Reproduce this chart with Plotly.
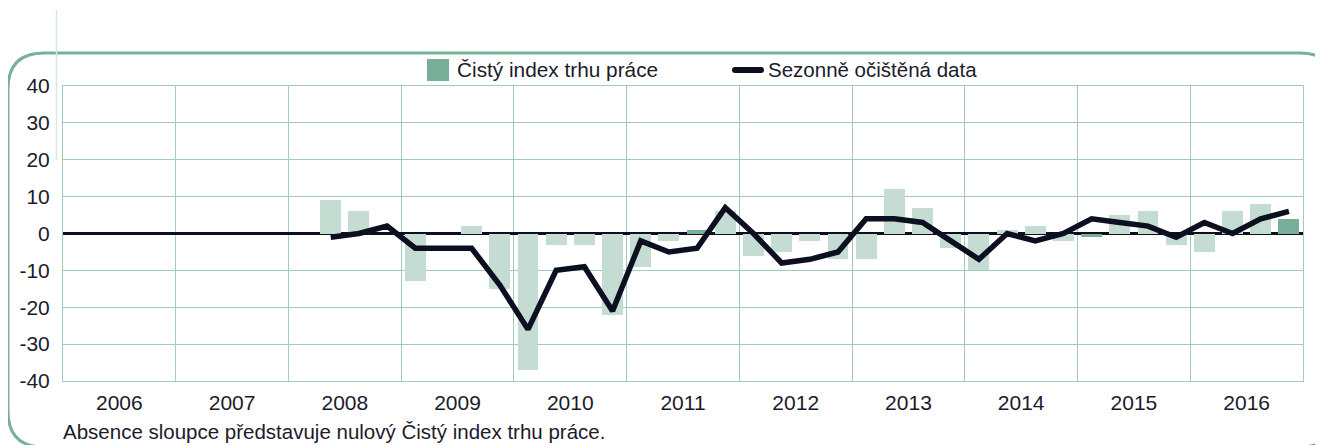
import plotly.graph_objects as go

# ---------------- data ----------------
year_labels = ["2006", "2007", "2008", "2009", "2010", "2011",
               "2012", "2013", "2014", "2015", "2016"]

y_ticks = [-40, -30, -20, -10, 0, 10, 20, 30, 40]
y_tick_labels = ["-40", "-30", "-20", "-10", "0", "10", "20", "30", "40"]

quarters = (["2008-Q2", "2008-Q3", "2008-Q4"] +
            [f"{y}-Q{q}" for y in range(2009, 2017) for q in range(1, 5)])

net_index = [9, 6, 0,
             -13, 0, 2, -15,
             -37, -3, -3, -22,
             -9, -2, 1, 6,
             -6, -5, -2, -7,
             -7, 12, 7, -4,
             -10, 1, 2, -2,
             -1, 5, 6, -3,
             -5, 6, 8, 4]

seasonal = [-1, 0, 2,
            -4, -4, -4, -14,
            -26, -10, -9, -21,
            -2, -5, -4, 7,
            0, -8, -7, -5,
            4, 4, 3, -2,
            -7, 0, -2, 0,
            4, 3, 2, -1,
            3, 0, 4, 6]

highlighted = ["2011-Q3", "2015-Q1", "2016-Q4"]
legend_names = ["Čistý index trhu práce", "Sezonně očištěná data"]
footnote = "Absence sloupce představuje nulový Čistý index trhu práce."

# ---------------- style ----------------
FONT = "Liberation Sans"
TXT = "#1b1b2b"
GRID = "#9fcbb8"
LIGHT = "#c4dcd2"
DARK = "#79af98"
LINE = "#0b0f1f"
FRAME = "#77b198"

OFF = 8                      # page body margin
W, H = 1323 - OFF, 445 - OFF
L, T = 63 - OFF, 86 - OFF
PR, PB = 1303 - OFF, 381 - OFF
R, B = W - PR, H - PB
PW, PH = PR - L, PB - T


def qx(label):
    y, q = label.split("-Q")
    return (int(y) - int(year_labels[0])) + (int(q) - 0.5) / 4


xs = [qx(q) for q in quarters]
bar_colors = [DARK if q in highlighted else LIGHT for q in quarters]
nyears = len(year_labels)


def px2x(sx):           # screen x -> paper
    return (sx - OFF - L) / PW


def px2y(sy):           # screen y -> paper
    return (PB - (sy - OFF)) / PH


fig = go.Figure()

fig.add_trace(go.Bar(
    x=xs, y=net_index, width=0.186, marker=dict(color=bar_colors, line=dict(width=0)),
    showlegend=False, name=legend_names[0], hoverinfo="skip"))

fig.add_trace(go.Scatter(
    x=xs, y=seasonal, mode="lines", name=legend_names[1], showlegend=False,
    line=dict(color=LINE, width=5.5)))

# helper axis carrying the year gridlines
fig.add_trace(go.Scatter(x=[None], y=[None], xaxis="x2", showlegend=False))

# rounded frame
fl, ft, fr, fb, rad = 8, 53, 1336, 447, 36
path = (f"M {px2x(fl)},{px2y(ft + rad)} "
        f"Q {px2x(fl)},{px2y(ft)} {px2x(fl + rad)},{px2y(ft)} "
        f"L {px2x(fr - rad)},{px2y(ft)} "
        f"Q {px2x(fr)},{px2y(ft)} {px2x(fr)},{px2y(ft + rad)} "
        f"L {px2x(fr)},{px2y(fb - rad)} "
        f"Q {px2x(fr)},{px2y(fb)} {px2x(fr - rad)},{px2y(fb)} "
        f"L {px2x(fl + rad)},{px2y(fb)} "
        f"Q {px2x(fl)},{px2y(fb)} {px2x(fl)},{px2y(fb - rad)} Z")
fig.add_shape(type="path", path=path, xref="paper", yref="paper",
              line=dict(color=FRAME, width=3), layer="below")
# faint vertical guide line
fig.add_shape(type="line", xref="paper", yref="paper",
              x0=px2x(56.5), x1=px2x(56.5), y0=px2y(10), y1=px2y(160),
              line=dict(color="#d4e8df", width=1.5), layer="below")

# legend (drawn by hand for exact sizing)
fig.add_shape(type="rect", xref="paper", yref="paper",
              x0=px2x(427), x1=px2x(449), y0=px2y(59), y1=px2y(81),
              fillcolor=DARK, line=dict(width=0))
fig.add_annotation(text=legend_names[0], xref="paper", yref="paper",
                   x=px2x(455), y=px2y(70), xanchor="left", yanchor="middle",
                   showarrow=False, font=dict(family=FONT, size=20.8, color=TXT))
fig.add_shape(type="line", xref="paper", yref="paper",
              x0=px2x(735), x1=px2x(761), y0=px2y(70), y1=px2y(70),
              line=dict(color=LINE, width=6))
fig.add_shape(type="circle", xref="paper", yref="paper",
              x0=px2x(732), x1=px2x(738), y0=px2y(67), y1=px2y(73),
              fillcolor=LINE, line=dict(width=0))
fig.add_shape(type="circle", xref="paper", yref="paper",
              x0=px2x(758), x1=px2x(764), y0=px2y(67), y1=px2y(73),
              fillcolor=LINE, line=dict(width=0))
fig.add_annotation(text=legend_names[1], xref="paper", yref="paper",
                   x=px2x(766), y=px2y(70), xanchor="left", yanchor="middle",
                   showarrow=False, font=dict(family=FONT, size=20.5, color=TXT))

fig.add_annotation(text=footnote, xref="paper", yref="paper",
                   x=px2x(61), y=px2y(431), xanchor="left", yanchor="middle",
                   showarrow=False, font=dict(family=FONT, size=20.5, color=TXT))

fig.update_layout(
    width=W, height=H,
    margin=dict(l=L, r=R, t=T, b=B, autoexpand=False),
    paper_bgcolor="white", plot_bgcolor="white",
    font=dict(family=FONT, size=21, color=TXT),
    bargap=0, showlegend=False,
    xaxis=dict(range=[0, nyears], tickvals=[i + 0.5 for i in range(nyears)],
               ticktext=year_labels, showgrid=False, zeroline=False,
               showline=True, linecolor=GRID, linewidth=1, mirror=True,
               ticks="", ticklabelstandoff=3),
    xaxis2=dict(range=[0, nyears], overlaying="x", side="bottom",
                tickvals=list(range(nyears + 1)), showticklabels=False,
                showgrid=True, gridcolor=GRID, gridwidth=1, zeroline=False,
                showline=False, ticks=""),
    yaxis=dict(range=[-40, 40], tickvals=y_ticks, ticktext=y_tick_labels,
               showgrid=True, gridcolor=GRID, gridwidth=1, zeroline=True,
               zerolinecolor=LINE, zerolinewidth=2.5, showline=True,
               linecolor=GRID, linewidth=1, mirror=True, ticks="",
               ticklabelstandoff=8),
)

fig.write_html("out.html")
